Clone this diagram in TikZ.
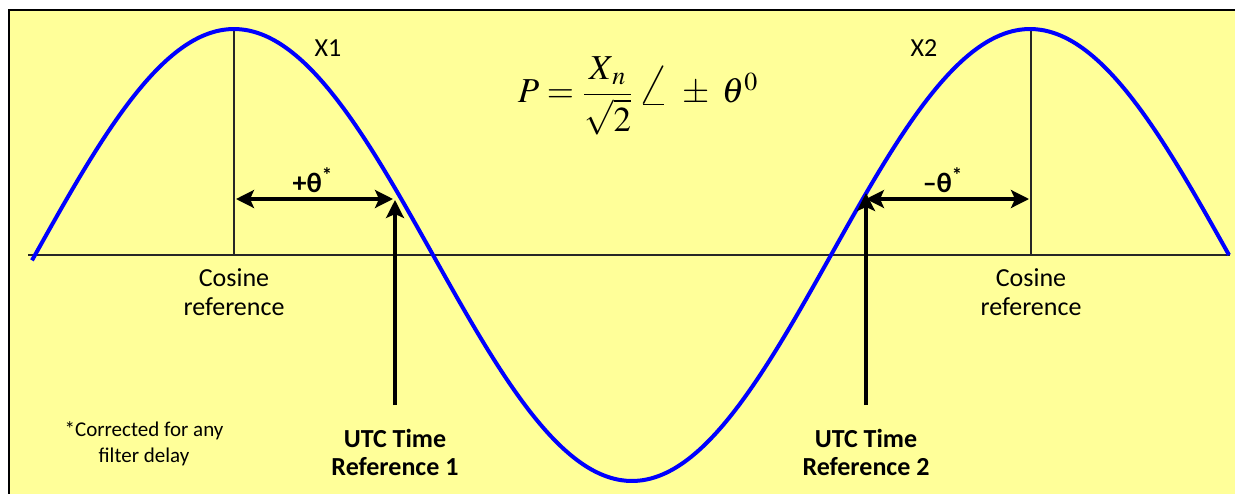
\documentclass[tikz,border=0pt]{standalone}
\usepackage{amsmath}
\usepackage{mathptmx}
\usepackage[no-math]{fontspec}
\setmainfont{Carlito}
\usetikzlibrary{arrows.meta,positioning}
\definecolor{paper}{HTML}{FFFF99}
\definecolor{wave}{HTML}{0000FF}
\newcommand{\bigangle}{\mathord{\raisebox{-0.1ex}{\scalebox{1.6}{$\angle$}}}}
\tikzset{lbl/.style={align=center,inner sep=0pt,font=\fontsize{13}{14.5}\selectfont}, utc/.style={lbl,font=\fontsize{13}{14}\selectfont\bfseries}, note/.style={align=center,inner sep=0pt,font=\fontsize{10.5}{13}\selectfont}, arr/.style={{Stealth[length=9pt,width=9pt,inset=2pt]}-{Stealth[length=9pt,width=9pt,inset=2pt]},line width=1.6pt}, uparr/.style={-{Stealth[length=9pt,width=9pt,inset=2pt]},line width=1.6pt}, refline/.style={draw=black!85,line width=0.6pt}, tag/.style={inner sep=0pt,font=\fontsize{13}{13}\selectfont}}

\begin{document}
\begin{tikzpicture}[x=0.5pt,y=-0.5pt]
\useasboundingbox (0,0) rectangle (1235,493);
\clip (0,0) rectangle (1235,493);
\draw[fill=paper,line width=0.7pt] (9,10) rectangle (1245,505);
% axis and cosine references
\coordinate (a0) at (28,255);
\coordinate (a1) at (1230,255);
\coordinate (top1) at (234,28);
\coordinate (bot1) at (234,255);
\coordinate (top2) at (1031,28);
\coordinate (bot2) at (1031,255);
\draw[refline] (a0) -- (a1);
\draw[refline] (top1) -- (bot1);
\draw[refline] (top2) -- (bot2);
% the wave
\draw[wave,line width=2pt] plot[domain=32:1229,samples=150,smooth] (\x,{255-226*cos(0.45226*(\x-234))});
% phase arrows
\coordinate (c1) at (236,199);
\coordinate (p1) at (393,199);
\coordinate (c2) at (1029,199);
\coordinate (p2) at (866,199);
\draw[arr] (c1) -- (p1);
\draw[arr] (p2) -- (c2);
\node[tag,font=\fontsize{14}{14}\selectfont\bfseries] (th1) at (313,180) {+θ\textsuperscript{*}};
\node[tag,font=\fontsize{14}{14}\selectfont\bfseries] (th2) at (943,180) {–θ\textsuperscript{*}};
% time references
\coordinate (b1) at (395,405);
\coordinate (t1) at (395,200);
\coordinate (b2) at (866,405);
\coordinate (t2) at (866,193);
\draw[uparr] (b1) -- (t1);
\draw[uparr] (b2) -- (t2);
\node[utc] (utc1) at (395,452) {UTC Time\\Reference 1};
\node[utc] (utc2) at (866,452) {UTC Time\\Reference 2};
% labels
\node[lbl] (cos1) at (234,292) {Cosine\\reference};
\node[lbl] (cos2) at (1031,292) {Cosine\\reference};
\node[tag] (x1) at (328,48) {X1};
\node[tag] (x2) at (924,48) {X2};
\node[note] (corr) at (144,444) {*Corrected for any\\filter delay};
\node[font=\fontsize{17.5}{21}\selectfont] (phasor) at (638,96) {$P=\dfrac{X_{\,n}}{\sqrt{2}}\,\bigangle\;\pm\;\theta^{0}$};
\end{tikzpicture}
\end{document}
